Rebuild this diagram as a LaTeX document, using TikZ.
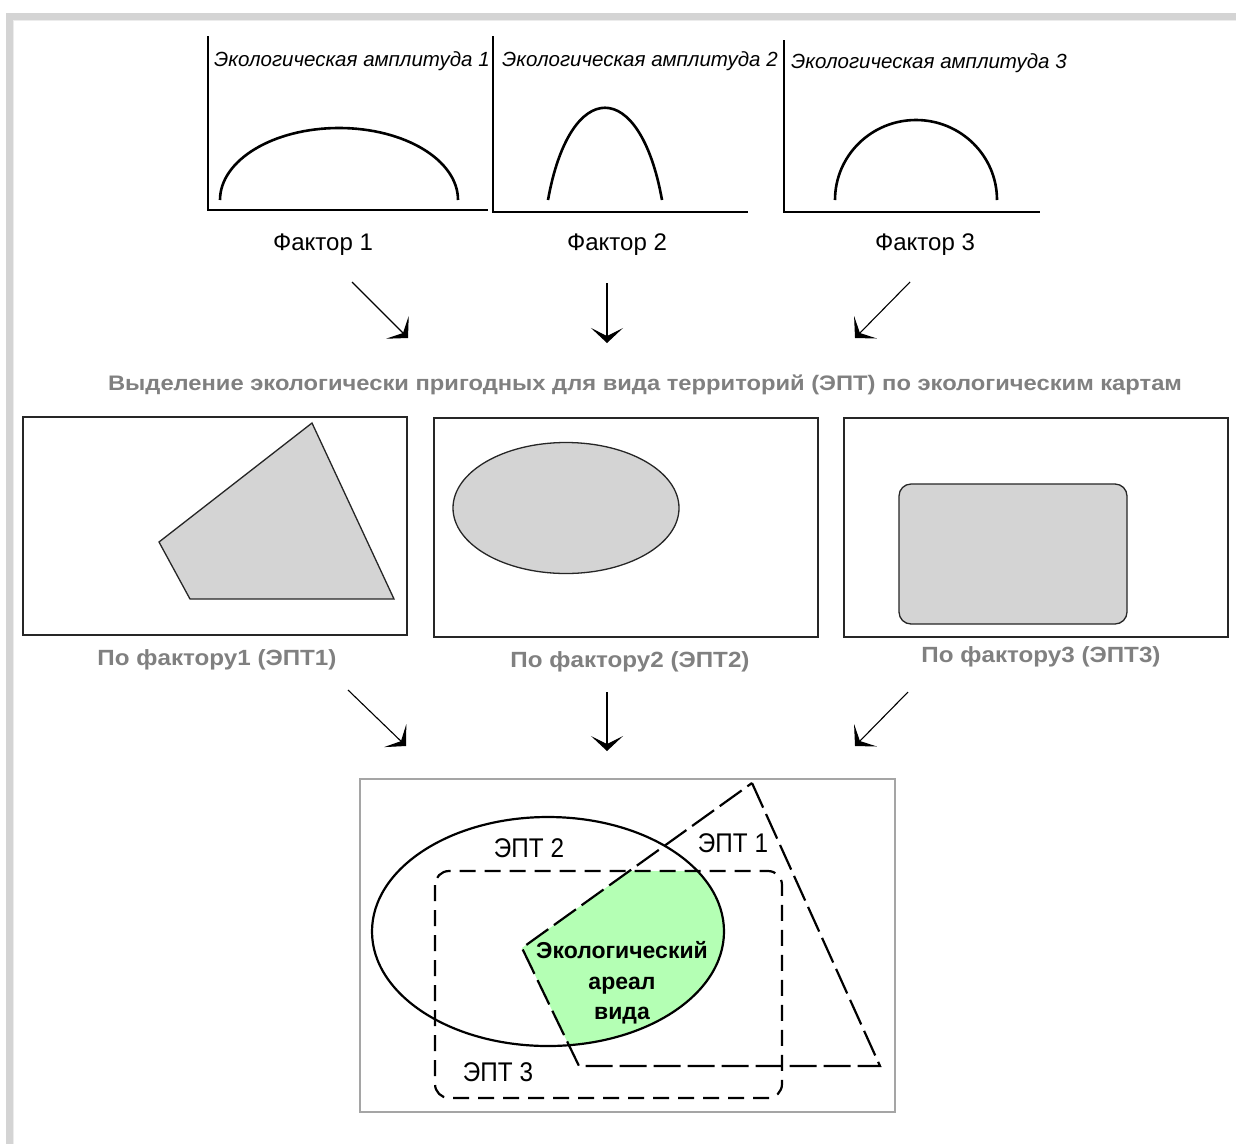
\documentclass[tikz,border=0pt]{standalone}
\usepackage{fontspec}
\setmainfont{Liberation Sans}
\usetikzlibrary{arrows.meta}
\definecolor{framegray}{RGB}{212,212,212}
\definecolor{frameinner}{RGB}{236,236,236}
\definecolor{mapfill}{RGB}{212,212,212}
\definecolor{titlegray}{RGB}{128,128,128}
\definecolor{areagreen}{RGB}{180,255,180}
\definecolor{boxgray}{RGB}{165,165,165}
\tikzset{
  axisline/.style={line width=1.4pt},
  curve/.style={line width=2.6pt},
  amp/.style={anchor=west, inner sep=0pt, font=\fontsize{20.5}{24}\selectfont\itshape},
  factor/.style={inner sep=0pt, font=\fontsize{24}{28}\selectfont},
  arr/.style={line width=1.1pt, -{Stealth[length=15pt,width=32pt,inset=8pt]}},
  titletext/.style={inner sep=0pt, text=titlegray, font=\fontsize{21}{25}\selectfont\bfseries},
  maplabel/.style={inner sep=0pt, text=titlegray, font=\fontsize{22}{26}\selectfont\bfseries},
  mapbox/.style={draw=black!85, line width=1.3pt},
  mapshape/.style={draw=black!85, fill=mapfill, line width=1.3pt},
  eptlabel/.style={inner sep=0pt, font=\fontsize{27}{30}\selectfont},
  arealabel/.style={inner sep=0pt, align=center, font=\fontsize{23}{30.5}\selectfont\bfseries},
  ept1/.style={line width=2.2pt, dash pattern=on 27pt off 7pt},
  ept3/.style={line width=2.2pt, dash pattern=on 16pt off 9pt},
}
\begin{document}
\begin{tikzpicture}[x=1pt,y=-1pt]
\useasboundingbox (0,0) rectangle (1236,1144);
\fill[white] (0,0) rectangle (1236,1144);
% outer frame
\fill[framegray] (6,13) rectangle (1236,20);
\fill[framegray] (6,13) rectangle (13,1144);
\fill[frameinner] (13,20) rectangle (1236,21.3);
\fill[frameinner] (13,20) rectangle (14.3,1144);

% ---- top graphs ----
\draw[axisline] (208,36) -- (208,210) -- (488,210);
\draw[axisline] (493,36) -- (493,212) -- (748,212);
\draw[axisline] (784,40) -- (784,212) -- (1040,212);
\node[amp] (amp1) at (214,61) {Экологическая амплитуда 1};
\node[amp] (amp2) at (502,61) {Экологическая амплитуда 2};
\node[amp] (amp3) at (791,63) {Экологическая амплитуда 3};
\draw[curve] (220,200) arc[start angle=180,end angle=360,x radius=119,y radius=72];
\draw[curve] (548,200) .. controls (570,77) and (640,77) .. (662,200);
\draw[curve] (835,200) arc[start angle=180,end angle=360,x radius=81,y radius=80];
\node[factor] (f1) at (323,245) {Фактор 1};
\node[factor] (f2) at (617,245) {Фактор 2};
\node[factor] (f3) at (925,245) {Фактор 3};

% arrows row 1
\coordinate (a1s) at (352,282); \coordinate (a1e) at (408,338);
\coordinate (a2s) at (607,283); \coordinate (a2e) at (607,343);
\coordinate (a3s) at (910,282); \coordinate (a3e) at (855,338);
\draw[arr] (a1s) -- (a1e);
\draw[arr] (a2s) -- (a2e);
\draw[arr] (a3s) -- (a3e);

% title
\node[titletext] (title) at (645,385) {\scalebox{1.13}[1]{Выделение экологически пригодных для вида территорий (ЭПТ) по экологическим картам}};

% maps
\draw[mapbox] (23,417) rectangle (407,635);
\draw[mapshape] (312,423) -- (159,542) -- (190,599) -- (394,599) -- cycle;
\draw[mapbox] (434,418) rectangle (818,637);
\draw[mapshape] (566,508) ellipse[x radius=113,y radius=65.5];
\draw[mapbox] (844,418) rectangle (1228,637);
\draw[mapshape, rounded corners=12pt] (899,484) rectangle (1127,624);
\node[maplabel] (m1) at (217,660) {\scalebox{1.1}[1]{По фактору1 (ЭПТ1)}};
\node[maplabel] (m2) at (630,662) {\scalebox{1.1}[1]{По фактору2 (ЭПТ2)}};
\node[maplabel] (m3) at (1041,657) {\scalebox{1.1}[1]{По фактору3 (ЭПТ3)}};

% arrows row 2
\coordinate (b1s) at (348,690); \coordinate (b1e) at (406,746);
\coordinate (b2s) at (607,692); \coordinate (b2e) at (607,751);
\coordinate (b3s) at (908,692); \coordinate (b3e) at (855,746);
\draw[arr] (b1s) -- (b1e);
\draw[arr] (b2s) -- (b2e);
\draw[arr] (b3s) -- (b3e);

% bottom composite
\draw[boxgray, line width=1.5pt] (360,779) rectangle (895,1112);
\begin{scope}
  \clip (548,931.5) ellipse[x radius=176,y radius=114.5];
  \clip (435,871) rectangle (782,1098);
  \fill[areagreen] (752,783) -- (880,1066) -- (579,1066) -- (522,948) -- cycle;
\end{scope}
\draw[line width=2.2pt] (548,931.5) ellipse[x radius=176,y radius=114.5];
\draw[ept3, rounded corners=14pt] (435,871) rectangle (782,1098);
\draw[ept1, line join=miter] (752,783) -- (880,1066) -- (579,1066) -- (522,948) -- cycle;
\node[eptlabel] (e2) at (529,848) {\scalebox{0.9}[1]{ЭПТ 2}};
\node[eptlabel] (e1) at (733,843) {\scalebox{0.9}[1]{ЭПТ 1}};
\node[eptlabel] (e3) at (498,1072) {\scalebox{0.9}[1]{ЭПТ 3}};
\node[arealabel] (area) at (622,983) {Экологический\\ареал\\вида};
\end{tikzpicture}
\end{document}
